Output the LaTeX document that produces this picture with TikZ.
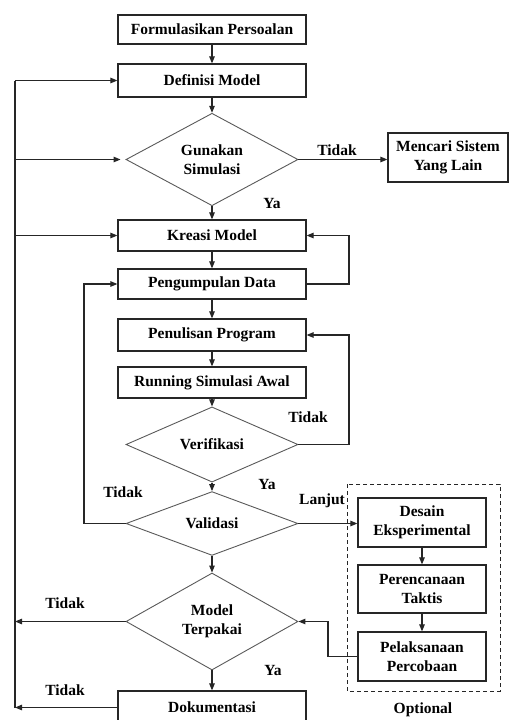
\documentclass[tikz,border=0pt]{standalone}
\usepackage{fontspec}
\setmainfont{Liberation Serif}
\usetikzlibrary{arrows.meta,shapes.geometric}

\tikzset{
  x=1pt, y=-1pt,
  every node/.style={font=\fontsize{15.5}{19.5}\selectfont\bfseries},
  box/.style={draw=black!85, line width=1.2pt, rectangle, inner sep=0pt,
              align=center},
  decide/.style={draw=black!65, line width=0.9pt, diamond, inner sep=0pt,
                 align=center, minimum width=172pt},
  arr/.style={draw=black!85, line width=1.1pt,
              -{Triangle[length=7pt,width=5.5pt]}},
  link/.style={draw=black!85, line width=1.1pt},
  lbl/.style={inner sep=0pt},
}

\begin{document}
\begin{tikzpicture}
\useasboundingbox (0,0) rectangle (509,720);

% main column
\node[box, minimum width=188pt, minimum height=29pt] (form) at (212,29.5) {Formulasikan Persoalan};
\node[box, minimum width=188pt, minimum height=33pt] (def) at (212,80.5) {Definisi Model};
\node[decide, minimum height=87pt] (gun) at (212,159.5) {Gunakan\\Simulasi};
\node[box, minimum width=120pt, minimum height=49pt] (cari) at (448,157.5) {Mencari Sistem\\Yang Lain};
\node[box, minimum width=188pt, minimum height=31pt] (kre) at (212,235.5) {Kreasi Model};
\node[box, minimum width=188pt, minimum height=30pt] (peng) at (212,284) {Pengumpulan Data};
\node[box, minimum width=188pt, minimum height=32pt] (tulis) at (212,335) {Penulisan Program};
\node[box, minimum width=188pt, minimum height=31pt] (run) at (212,382.5) {Running Simulasi Awal};
\node[decide, minimum height=57pt] (ver) at (212,444.5) {Verifikasi};
\node[decide, minimum height=57pt] (val) at (212,523.5) {Validasi};
\node[decide, minimum height=97pt] (pakai) at (212,621.5) {Model\\Terpakai};
\node[box, minimum width=188pt, minimum height=33pt] (dok) at (212,707.5) {Dokumentasi};

% optional branch
\node[box, minimum width=128pt, minimum height=49pt] (des) at (422,522.5) {Desain\\Eksperimental};
\node[box, minimum width=128pt, minimum height=48pt] (ren) at (422,589) {Perencanaan\\Taktis};
\node[box, minimum width=128pt, minimum height=49pt] (lak) at (422,656.5) {Pelaksanaan\\Percobaan};
\draw[draw=black!85, line width=1pt, dash pattern=on 4pt off 3pt] (347,484) rectangle (500,691);

% guide coordinates for the return lines
\coordinate (lx) at (15,0);
\coordinate (ix) at (84,0);
\coordinate (rx) at (349,0);
\coordinate (px) at (328,0);

% straight flow
\draw[arr] (form) -- (def);
\draw[arr] (def) -- (gun);
\draw[arr] (gun) -- (kre);
\draw[arr] (gun.east) -- (gun.east -| cari.west);
\draw[arr] (kre) -- (peng);
\draw[arr] (peng) -- (tulis);
\draw[arr] (tulis) -- (run);
\draw[arr] (run) -- (ver);
\draw[arr] (ver) -- (val);
\draw[arr] (val) -- (pakai);
\draw[arr] (pakai) -- (dok);
\draw[arr] (val.east) -- (val.east -| des.west);
\draw[arr] (des) -- (ren);
\draw[arr] (ren) -- (lak);

% loops on the right
\draw[arr] (peng.east) -| (rx |- kre.east) -- (kre.east);
\draw[arr] (ver.east) -| (rx |- tulis.east) -- (tulis.east);
\draw[arr] (lak.west) -| (px |- pakai.east) -- (pakai.east);

% loop from Validasi back to data collection
\draw[arr] (val.west) -| (ix |- peng.west) -- (peng.west);

% long return line on the left
\draw[link] (lx |- def.west) -- (lx |- dok.west);
\draw[arr] (lx |- def.west) -- (def.west);
\draw[arr, shorten >=5pt] (lx |- gun.west) -- (gun.west);
\draw[arr] (lx |- kre.west) -- (kre.west);
\draw[arr] (pakai.west) -- (lx |- pakai.west);
\draw[arr] (dok.west) -- (lx |- dok.west);

% branch labels
\node[lbl] (t1) at (337,150) {Tidak};
\node[lbl] (y1) at (272,203) {Ya};
\node[lbl] (t2) at (308,417) {Tidak};
\node[lbl] (y2) at (267,484) {Ya};
\node[lbl] (t3) at (123,492) {Tidak};
\node[lbl] (lj) at (322,501) {Lanjut};
\node[lbl] (t4) at (65,603) {Tidak};
\node[lbl] (y3) at (273,670) {Ya};
\node[lbl] (t5) at (65,690) {Tidak};
\node[lbl] (opt) at (423,710) {Optional};
\end{tikzpicture}
\end{document}
